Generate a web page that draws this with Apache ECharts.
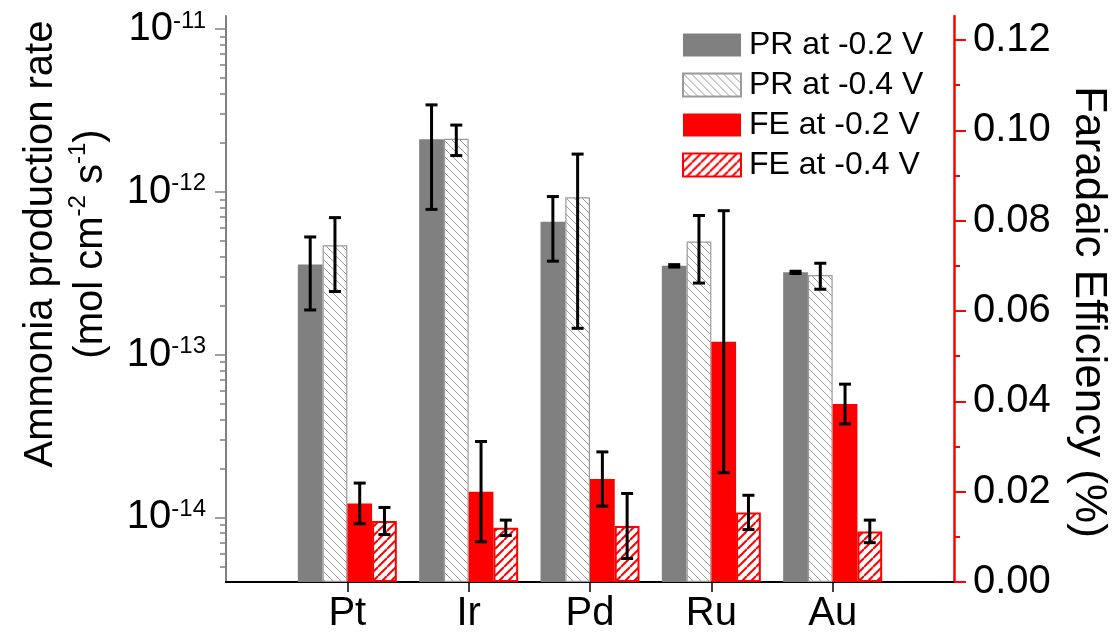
<!DOCTYPE html>
<html><head><meta charset="utf-8">
<script src="https://cdn.jsdelivr.net/npm/echarts@6/dist/echarts.min.js"></script>
<style>html,body{margin:0;padding:0;background:#fff}#c{width:1112px;height:633px}</style>
</head><body><div id="c"></div>
<script>
// ---- data ----
const CATEGORIES = ['Pt', 'Ir', 'Pd', 'Ru', 'Au'];
const SERIES_NAMES = ['PR at -0.2 V', 'PR at -0.4 V', 'FE at -0.2 V', 'FE at -0.4 V'];
const PR_02 = [3.58e-13, 2.10e-12, 6.55e-13, 3.51e-13, 3.20e-13];
const PR_02_ERR = [1.70e-13, 1.32e-12, 2.80e-13, 0.06e-13, 0.05e-13];
const PR_04 = [4.69e-13, 2.12e-12, 9.25e-13, 4.95e-13, 3.08e-13];
const PR_04_ERR = [2.25e-13, 0.45e-12, 7.8e-13, 2.2e-13, 0.56e-13];
const FE_02 = [0.0174, 0.0200, 0.0228, 0.0532, 0.0394];
const FE_02_ERR = [0.0045, 0.0111, 0.0060, 0.0290, 0.0044];
const FE_04 = [0.0135, 0.0120, 0.0124, 0.0154, 0.0112];
const FE_04_ERR = [0.0030, 0.0017, 0.0072, 0.0038, 0.0025];
const PR_MAJOR_TICKS = [1e-14, 1e-13, 1e-12, 1e-11];
const PR_MINOR_TICKS = [5e-15, 6e-15, 7e-15, 8e-15, 9e-15,
  2e-14, 3e-14, 4e-14, 5e-14, 6e-14, 7e-14, 8e-14, 9e-14,
  2e-13, 3e-13, 4e-13, 5e-13, 6e-13, 7e-13, 8e-13, 9e-13,
  2e-12, 3e-12, 4e-12, 5e-12, 6e-12, 7e-12, 8e-12, 9e-12];
const FE_MAJOR_TICKS = [0, 0.02, 0.04, 0.06, 0.08, 0.10, 0.12];
const FE_MINOR_TICKS = [0.01, 0.03, 0.05, 0.07, 0.09, 0.11];
const PR_MIN = Math.pow(10, -14.397);
const PR_MAX = Math.pow(10, -10.92);
const FE_MIN = 0;
const FE_MAX = 0.1253;

// ---- styles ----
const FONT = '"Liberation Sans", Arial, Helvetica, sans-serif';
const BAR_W = 24.75;
const CAP = 6;

function hatch(size, color, lw, dir) {
  const c = document.createElement('canvas');
  c.width = size; c.height = size;
  const g = c.getContext('2d');
  g.fillStyle = '#ffffff'; g.fillRect(0, 0, size, size);
  g.strokeStyle = color; g.lineWidth = lw; g.beginPath();
  for (let k = -1; k <= 2; k++) {
    if (dir === 'down') { g.moveTo(0, k * size); g.lineTo(size, k * size + size); }
    else { g.moveTo(0, k * size); g.lineTo(size, k * size - size); }
  }
  g.stroke();
  return c;
}
const grayHatch = hatch(8, '#9a9a9a', 1, 'down');
const redHatch = hatch(9, '#ff0000', 2, 'up');

const xData = [''].concat(CATEGORIES, ['']);
const pad = arr => ['-'].concat(arr, ['-']);

function errData(vals, errs, slot) {
  return vals.map((v, i) => [i + 1, v, errs[i], slot]);
}
function renderErr(params, api) {
  const x = api.value(0), v = api.value(1), e = api.value(2), slot = api.value(3);
  const c = api.coord([x, v]);
  const t = api.coord([x, v + e]);
  const b = api.coord([x, v - e]);
  const cx = c[0] + (slot - 1.5) * BAR_W;
  const st = { stroke: '#000', lineWidth: 3 };
  return {
    type: 'group',
    children: [
      { type: 'line', shape: { x1: cx, y1: t[1], x2: cx, y2: b[1] }, style: st },
      { type: 'line', shape: { x1: cx - CAP, y1: t[1], x2: cx + CAP, y2: t[1] }, style: st },
      { type: 'line', shape: { x1: cx - CAP, y1: b[1], x2: cx + CAP, y2: b[1] }, style: st }
    ]
  };
}

const chart = echarts.init(document.getElementById('c'), null, { renderer: 'canvas' });
const option = {
  animation: false,
  backgroundColor: '#ffffff',
  grid: { left: 226, right: 158, top: 16, bottom: 51, containLabel: false, outerBoundsMode: 'none' },
  legend: {
    orient: 'vertical', left: 677, top: 24, itemWidth: 58, itemHeight: 23, itemGap: 8,
    icon: 'rect', selectedMode: false,
    textStyle: { fontSize: 32, color: '#000', fontFamily: FONT, lineHeight: 31, padding: [0, 0, 0, 3] },
    data: SERIES_NAMES
  },
  xAxis: [
    {
      type: 'category', data: xData, boundaryGap: false,
      axisLine: { lineStyle: { color: '#000', width: 2 } },
      axisTick: { show: true, length: 10, interval: (i, v) => v !== '', lineStyle: { color: '#000', width: 1.5 } },
      axisLabel: { interval: 0, fontSize: 40, color: '#000', fontFamily: FONT, margin: 12 },
      splitLine: { show: false }
    },
    {
      type: 'category', data: xData, boundaryGap: false, position: 'top',
      axisLine: { lineStyle: { color: '#000', width: 1.5 } },
      axisTick: { show: false }, axisLabel: { show: false }, splitLine: { show: false }
    }
  ],
  yAxis: [
    {
      type: 'log', logBase: 10, min: PR_MIN, max: PR_MAX, startValue: PR_MIN, position: 'left',
      axisLine: { show: true, lineStyle: { color: '#808080', width: 2 } },
      axisTick: { show: true, length: 11, customValues: PR_MAJOR_TICKS, lineStyle: { color: '#808080', width: 1.5 } },
      minorTick: { show: false },
      splitLine: { show: false },
      axisLabel: {
        customValues: PR_MAJOR_TICKS, margin: 20, fontSize: 40, lineHeight: 40, color: '#000', fontFamily: FONT,
        formatter: v => '10{sup|' + Math.round(Math.log10(v)) + '}',
        rich: { sup: { fontSize: 24, lineHeight: 24, verticalAlign: 'top', color: '#000', fontFamily: FONT } }
      },
      name: 'Ammonia production rate\n(mol cm{sup|-2} s{sup|-1})',
      nameLocation: 'middle', nameRotate: 90, nameGap: 106,
      nameTextStyle: {
        fontSize: 40, lineHeight: 50, color: '#000', fontFamily: FONT, align: 'center', padding: [0, 0, 0, 110],
        rich: { sup: { fontSize: 24, lineHeight: 30, verticalAlign: 'top', color: '#000', fontFamily: FONT } }
      }
    },
    {
      type: 'value', min: FE_MIN, max: FE_MAX, position: 'right',
      axisLine: { show: true, lineStyle: { color: '#ff0000', width: 2.5 } },
      axisTick: { show: true, length: 12, customValues: FE_MAJOR_TICKS, lineStyle: { color: '#ff0000', width: 2 } },
      minorTick: { show: false }, splitLine: { show: false },
      axisLabel: { customValues: FE_MAJOR_TICKS, margin: 19, fontSize: 40, color: '#000', fontFamily: FONT, formatter: v => v.toFixed(2) },
      name: 'Faradaic Efficiency (%)', nameLocation: 'middle', nameRotate: -90, nameGap: 112,
      nameTextStyle: { fontSize: 44, color: '#000', fontFamily: FONT, padding: [0, 0, 0, 26] }
    },
    {
      type: 'log', logBase: 10, min: PR_MIN, max: PR_MAX, position: 'left',
      axisLine: { show: false }, axisLabel: { show: false }, splitLine: { show: false },
      axisTick: { show: true, length: 6, customValues: PR_MINOR_TICKS, lineStyle: { color: '#808080', width: 1.5 } }
    },
    {
      type: 'value', min: FE_MIN, max: FE_MAX, position: 'right',
      axisLine: { show: false }, axisLabel: { show: false }, splitLine: { show: false },
      axisTick: { show: true, length: 6, customValues: FE_MINOR_TICKS, lineStyle: { color: '#ff0000', width: 2 } }
    }
  ],
  series: [
    { name: SERIES_NAMES[0], type: 'bar', yAxisIndex: 0, data: pad(PR_02), barWidth: BAR_W, barGap: '0%',
      itemStyle: { color: '#808080' }, emphasis: { disabled: true } },
    { name: SERIES_NAMES[1], type: 'bar', yAxisIndex: 0, data: pad(PR_04), barWidth: BAR_W, barGap: '0%',
      itemStyle: { color: { image: grayHatch, repeat: 'repeat' }, borderColor: '#9a9a9a', borderWidth: 1.2 }, emphasis: { disabled: true } },
    { name: SERIES_NAMES[2], type: 'bar', yAxisIndex: 1, data: pad(FE_02), barWidth: BAR_W, barGap: '0%',
      itemStyle: { color: '#ff0000' }, emphasis: { disabled: true } },
    { name: SERIES_NAMES[3], type: 'bar', yAxisIndex: 1, data: pad(FE_04), barWidth: BAR_W, barGap: '0%',
      itemStyle: { color: { image: redHatch, repeat: 'repeat' }, borderColor: '#ff0000', borderWidth: 2 }, emphasis: { disabled: true } },
    { name: 'err-pr', type: 'custom', yAxisIndex: 0, z: 5, renderItem: renderErr,
      data: errData(PR_02, PR_02_ERR, 0).concat(errData(PR_04, PR_04_ERR, 1)) },
    { name: 'err-fe', type: 'custom', yAxisIndex: 1, z: 5, renderItem: renderErr,
      data: errData(FE_02, FE_02_ERR, 2).concat(errData(FE_04, FE_04_ERR, 3)) }
  ]
};
chart.setOption(option);
</script></body></html>
